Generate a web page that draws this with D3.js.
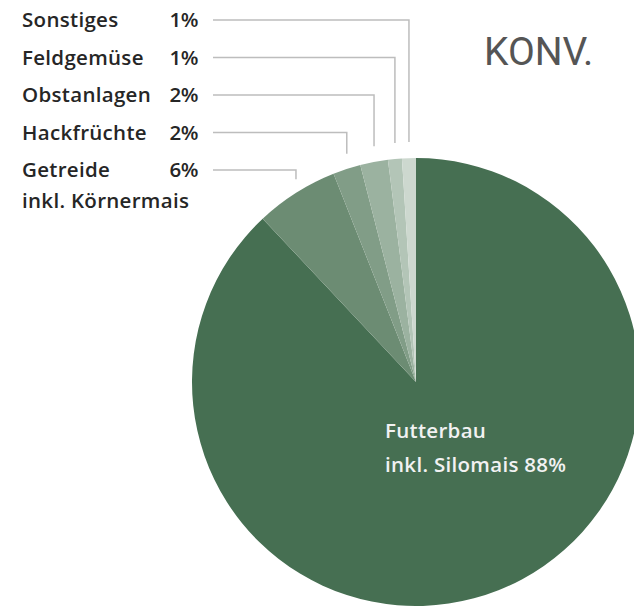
<!DOCTYPE html>
<html>
<head>
<meta charset="utf-8">
<script src="https://cdn.jsdelivr.net/npm/d3@7"></script>
<style>
  body { margin: 0; background: #fff; }
  svg { display: block; }
</style>
</head>
<body>
<div id="chart"></div>
<script>
// slice order clockwise from 12 o'clock
var categories = ["Futterbau", "Getreide", "Hackfrüchte", "Obstanlagen", "Feldgemüse", "Sonstiges"];
var values = [88, 6, 2, 2, 1, 1];
var labels = ["Futterbau inkl. Silomais", "Getreide", "Hackfrüchte", "Obstanlagen", "Feldgemüse", "Sonstiges"];
var colors = ["#466f52", "#6c8c73", "#819d87", "#9bb2a0", "#b3c5b7", "#cdd8cf"];

var width = 634, height = 606;
var cx = 416, cy = 382, r = 224;

var svg = d3.select("#chart").append("svg").attr("width", width).attr("height", height);

var pie = d3.pie().sort(null).value(function(d) { return d; });
var arcs = pie(values);
var arc = d3.arc().innerRadius(0).outerRadius(r);

var g = svg.append("g").attr("transform", "translate(" + cx + "," + cy + ")");

g.selectAll("path")
   .data(arcs)
   .enter()
   .append("path")
   .attr("d", arc)
   .style("fill", function(d, i) { return colors[i]; });

// small slices get labels on the left, stacked from the top
var small = arcs.slice(1).reverse();
var rowY = d3.scaleLinear().domain([0, 1]).range([27, 64.5]);

function labelStyle(sel) {
    sel.style("font-family", "'Open Sans', sans-serif")
       .style("font-weight", 600)
       .style("font-size", "20.5px")
       .style("letter-spacing", "0.3px");
}

var rows = svg.selectAll(".row")
   .data(small)
   .enter()
   .append("g")
   .attr("class", "row");

rows.append("text")
   .attr("x", 22)
   .attr("y", function(d, i) { return rowY(i); })
   .call(labelStyle)
   .style("fill", "#262626")
   .text(function(d) { return labels[d.index]; });

rows.append("text")
   .attr("x", 198)
   .attr("y", function(d, i) { return rowY(i); })
   .style("text-anchor", "end")
   .call(labelStyle)
   .style("letter-spacing", "-0.5px")
   .style("fill", "#262626")
   .text(function(d) { return values[d.index] + "%"; });

rows.append("polyline")
   .attr("points", function(d, i) {
       var a = (d.startAngle + d.endAngle) / 2;
       var x = cx + r * Math.sin(a);
       var y0 = rowY(i) - 7;
       var y1 = cy - (r + 16) * Math.cos(a);
       return [[213, y0], [x, y0], [x, y1]].join(" ");
   })
   .style("fill", "none")
   .style("stroke", "#bdbdbd")
   .style("stroke-width", 1.5);

svg.append("text")
   .attr("x", 22)
   .attr("y", rowY(small.length - 1) + 31)
   .call(labelStyle)
   .style("fill", "#262626")
   .text("inkl. Körnermais");

// big slice label
var big = svg.append("text")
   .attr("x", 385)
   .attr("y", 438)
   .call(labelStyle)
   .style("fill", "#f2f2f2");
big.append("tspan").attr("x", 385).text("Futterbau");
big.append("tspan").attr("x", 385).attr("dy", 34).text("inkl. Silomais " + values[0] + "%");

svg.append("text")
   .attr("x", 484)
   .attr("y", 65)
   .style("font-family", "Roboto, sans-serif")
   .style("font-size", "39px")
   .style("fill", "#555")
   .text("KONV.");
</script>
</body>
</html>
